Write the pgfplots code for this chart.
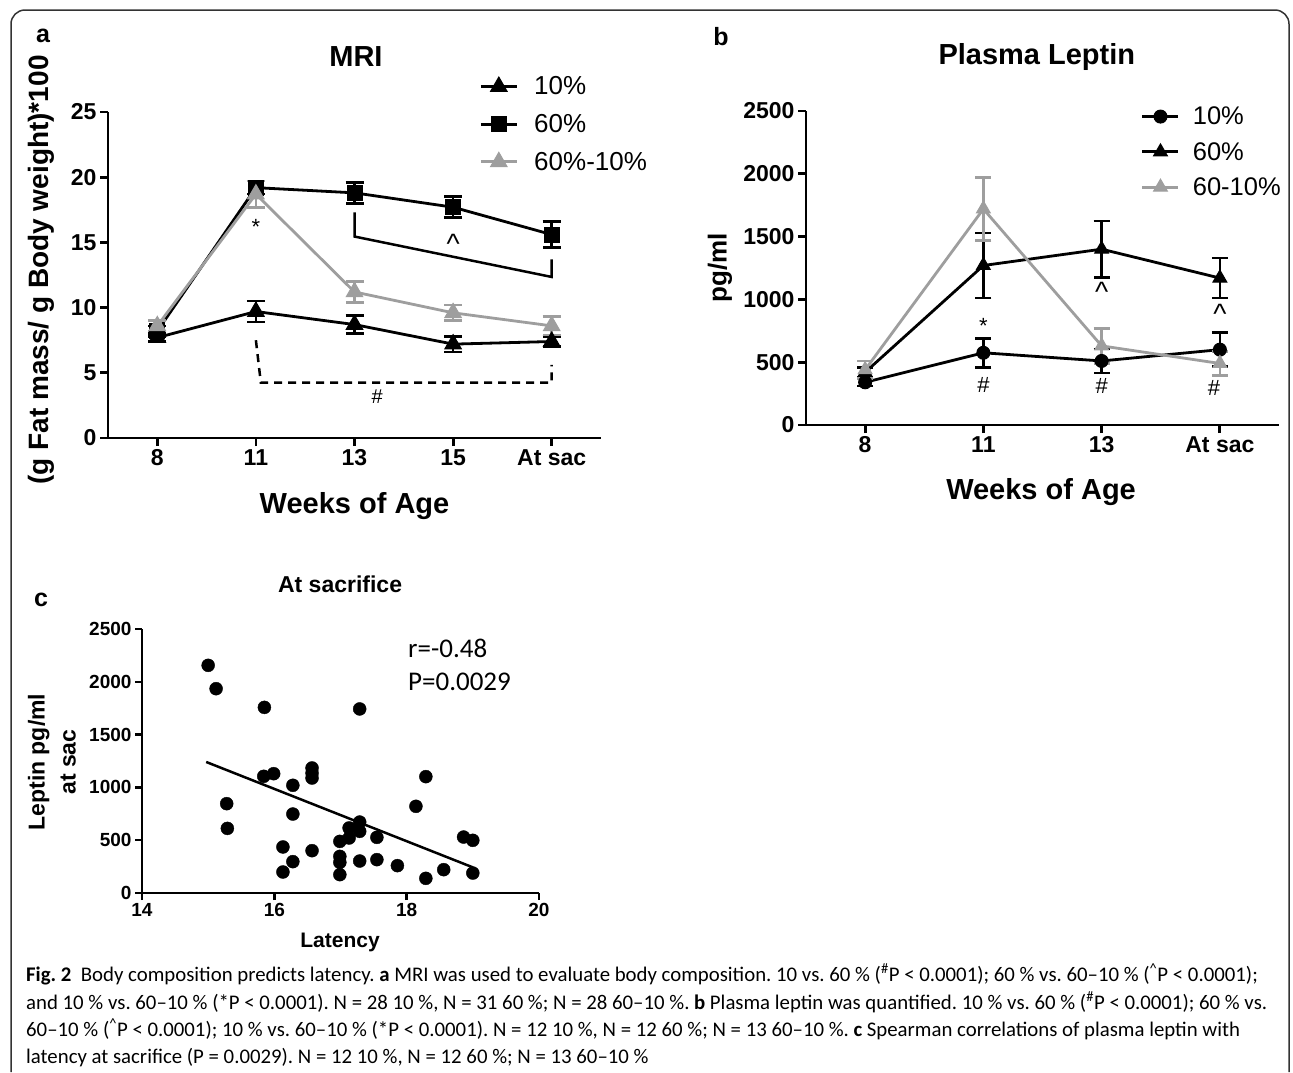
\documentclass[border=0pt]{standalone}
\usepackage{pgfplots}
\pgfplotsset{compat=1.18}
\usepackage{fontspec}
\setmainfont{Liberation Sans}
\newfontfamily\capfont{Carlito}
\definecolor{mgray}{RGB}{158,158,158}
\newcommand{\fs}[1]{\fontsize{#1}{#1}\selectfont}

\pgfplotsset{
  panel/.style={
    scale only axis, clip=false,
    axis x line*=bottom, axis y line*=left,
    axis line style={line width=2.8pt, black},
    tick align=outside, major tick length=8pt,
    major tick style={line width=2.8pt, black},
    /pgf/number format/assume math mode=true,
    /pgf/number format/1000 sep={},
    scaled ticks=false,
    tick label style={font=\fs{23}\bfseries},
  },
  ebar/.style={error bars/.cd, y dir=both, y explicit,
    error bar style={line width=2.6pt},
    error mark options={rotate=90, mark size=#1, line width=2.6pt}},
  myleg/.style={legend cell align=left,
    legend image code/.code={\draw[mark repeat=2,mark phase=2,##1] plot coordinates {(0pt,0pt)(18pt,0pt)(36pt,0pt)};}},
}

\begin{document}
\frenchspacing
\begin{tikzpicture}
\path[use as bounding box] (0pt,0pt) rectangle (1293pt,-1072pt);
\draw[line width=1.5pt, black!80, rounded corners=14pt] (11pt,-1072pt) -- (11pt,-10pt) -- (1289pt,-10pt) -- (1289pt,-1072pt);

\node[font=\fs{25}\bfseries] at (43pt,-36pt) {a};
\node[font=\fs{25}\bfseries] at (721pt,-37pt) {b};
\node[font=\fs{25}\bfseries] at (41pt,-600pt) {c};

% ---------------- Panel a ----------------
\begin{axis}[panel, myleg,
  at={(108pt,-438pt)}, anchor=south west, width=493pt, height=326pt,
  xmin=-0.5, xmax=4.5, ymin=0, ymax=25,
  ytick={0,5,...,25}, xtick={0,...,4}, xticklabels={8,11,13,15,At sac},
  title={MRI}, title style={at={(axis description cs:0.503,1.153)}, anchor=center, font=\fs{29}\bfseries},
  xlabel={Weeks of Age}, xlabel style={at={(axis description cs:0.5,-0.209)}, anchor=center, font=\fs{29}\bfseries},
  ylabel={(g Fat mass/ g Body weight)*100}, ylabel style={at={(axis description cs:-0.136,0.515)}, anchor=center, font=\fs{28}\bfseries},
  legend style={draw=none, fill=none, at={(0.753,1.115)}, anchor=north west, font=\fs{26}, row sep=14pt, inner sep=0pt,
    /tikz/every odd column/.append style={column sep=14pt}},
]
\addplot[black, line width=2.8pt, mark=triangle*, mark size=9.5pt, mark options={solid, line width=1pt}, ebar=9pt]
  coordinates {(0,7.7) +- (0,0.3) (1,9.7) +- (0,0.8) (2,8.7) +- (0,0.7) (3,7.2) +- (0,0.6) (4,7.4) +- (0,0.4)};
\addlegendentry{10\%}
\addplot[black, line width=2.8pt, mark=square*, mark size=7.5pt, mark options={solid, line width=1pt}, ebar=9pt]
  coordinates {(0,8.2) +- (0,0.4) (1,19.2) +- (0,0.5) (2,18.8) +- (0,0.8) (3,17.7) +- (0,0.8) (4,15.6) +- (0,1.0)};
\addlegendentry{60\%}
\addplot[mgray, line width=2.8pt, mark=triangle*, mark size=9.5pt, mark options={solid, line width=1pt}, ebar=9pt]
  coordinates {(0,8.6) +- (0,0.4) (1,18.7) +- (0,1.0) (2,11.2) +- (0,0.8) (3,9.6) +- (0,0.6) (4,8.6) +- (0,0.7)};
\addlegendentry{60\%-10\%}
\addplot[black, line width=2.5pt, mark=none, forget plot] coordinates {(2,17.3) (2,15.45) (4,12.35) (4,13.7)};
\addplot[black, line width=2.5pt, mark=none, dash pattern=on 8pt off 6pt, forget plot] coordinates {(1,7.5) (1.05,4.24) (4,4.24) (4,5.6)};
\node[font=\fs{22}] at (axis cs:1,16.2) {*};
\node[font=\fs{28}] at (axis cs:3,14.9) {\textasciicircum};
\node[font=\fs{20}] at (axis cs:2.23,3.2) {\#};
\end{axis}

% ---------------- Panel b ----------------
\begin{axis}[panel, myleg,
  at={(806pt,-425pt)}, anchor=south west, width=473pt, height=314pt,
  xmin=-0.5, xmax=3.5, ymin=0, ymax=2500,
  ytick={0,500,...,2500}, xtick={0,...,3}, xticklabels={8,11,13,At sac},
  title={Plasma Leptin}, title style={at={(axis description cs:0.488,1.153)}, anchor=center, font=\fs{29}\bfseries},
  xlabel={Weeks of Age}, xlabel style={at={(axis description cs:0.497,-0.213)}, anchor=center, font=\fs{29}\bfseries},
  ylabel={pg/ml}, ylabel style={at={(axis description cs:-0.182,0.5)}, anchor=center, font=\fs{26}\bfseries},
  legend style={draw=none, fill=none, at={(0.708,1.02)}, anchor=north west, font=\fs{25.5}, row sep=12pt, inner sep=0pt,
    /tikz/every odd column/.append style={column sep=11pt}},
]
\addplot[black, line width=2.8pt, mark=*, mark size=6.5pt, mark options={solid, line width=1pt}, ebar=8pt]
  coordinates {(0,340) +- (0,30) (1,575) +- (0,115) (2,510) +- (0,95) (3,600) +- (0,135)};
\addlegendentry{10\%}
\addplot[black, line width=2.8pt, mark=triangle*, mark size=8pt, mark options={solid, line width=1pt}, ebar=8pt]
  coordinates {(0,420) +- (0,40) (1,1270) +- (0,260) (2,1400) +- (0,225) (3,1170) +- (0,160)};
\addlegendentry{60\%}
\addplot[mgray, line width=2.8pt, mark=triangle*, mark size=8pt, mark options={solid, line width=1pt}, ebar=8pt]
  coordinates {(0,440) +- (0,70) (1,1720) +- (0,250) (2,630) +- (0,140) (3,490) +- (0,95)};
\addlegendentry{60-10\%}
\node[font=\fs{22}] at (axis cs:1,790) {*};
\node[font=\fs{22}] at (axis cs:1,320) {\#};
\node[font=\fs{22}] at (axis cs:2,307) {\#};
\node[font=\fs{22}] at (axis cs:2.95,296) {\#};
\node[font=\fs{28}] at (axis cs:2,1060) {\textasciicircum};
\node[font=\fs{28}] at (axis cs:3,885) {\textasciicircum};
\end{axis}

% ---------------- Panel c ----------------
\begin{axis}[panel,
  at={(142pt,-893pt)}, anchor=south west, width=397pt, height=264pt,
  xmin=14, xmax=20, ymin=0, ymax=2500,
  ytick={0,500,...,2500}, xtick={14,16,18,20},
  axis line style={line width=2.5pt, black}, major tick style={line width=2.5pt, black},
  major tick length=7pt,
  tick label style={font=\fs{19}\bfseries},
  title={At sacrifice}, title style={at={(axis description cs:0.499,1.148)}, anchor=center, font=\fs{23}\bfseries},
  xlabel={Latency}, xlabel style={at={(axis description cs:0.499,-0.189)}, anchor=center, font=\fs{21}\bfseries},
  ylabel={Leptin pg/ml\\at sac}, ylabel style={at={(axis description cs:-0.227,0.496)}, anchor=center, align=center, font=\fontsize{23}{31}\selectfont\bfseries},
]
\addplot[only marks, mark=*, mark size=6.5pt, black] coordinates {
(15.0,2156) (15.12,1935) (15.85,1758) (17.29,1743) (15.84,1105) (15.99,1130)
(16.57,1184) (16.57,1136) (16.57,1089) (16.28,1020) (18.29,1102) (15.28,846)
(15.29,612) (16.28,748) (18.14,821) (17.13,616) (17.29,672) (17.29,584)
(17.13,521) (16.99,489) (17.55,527) (18.86,530) (19.0,499) (16.13,436)
(16.57,401) (16.99,347) (16.99,290) (16.28,297) (17.29,303) (17.55,316)
(17.86,259) (16.13,199) (16.99,174) (18.29,139) (18.56,221) (19.0,189)
};
\addplot[black, line width=2.5pt, mark=none] coordinates {(14.97,1241) (19.0,243)};
\node[anchor=west, font=\capfont\fs{27}] at (axis cs:17.97,2320) {r=-0.48};
\node[anchor=west, font=\capfont\fs{27}] at (axis cs:17.97,1998) {P=0.0029};
\end{axis}

% ---------------- Caption ----------------
\begin{scope}[every node/.style={anchor=base west, inner sep=0pt, font=\capfont\fs{20.8}}]
\node at (26pt,-981pt) {\textbf{Fig. 2}\ \ Body composition predicts latency. \textbf{a} MRI was used to evaluate body composition. 10 vs. 60 \% (\textsuperscript{\#}P < 0.0001); 60 \% vs. 60–10 \% (\textsuperscript{\textasciicircum}P < 0.0001);};
\node at (26pt,-1009pt) {and 10 \% vs. 60–10 \% (*P < 0.0001). N = 28 10 \%, N = 31 60 \%; N = 28 60–10 \%. \textbf{b} Plasma leptin was quantified. 10 \% vs. 60 \% (\textsuperscript{\#}P < 0.0001); 60 \% vs.};
\node at (26pt,-1036pt) {60–10 \% (\textsuperscript{\textasciicircum}P < 0.0001); 10 \% vs. 60–10 \% (*P < 0.0001). N = 12 10 \%, N = 12 60 \%; N = 13 60–10 \%. \textbf{c} Spearman correlations of plasma leptin with};
\node at (26pt,-1063pt) {latency at sacrifice (P = 0.0029). N = 12 10 \%, N = 12 60 \%; N = 13 60–10 \%};
\end{scope}
\end{tikzpicture}
\end{document}
